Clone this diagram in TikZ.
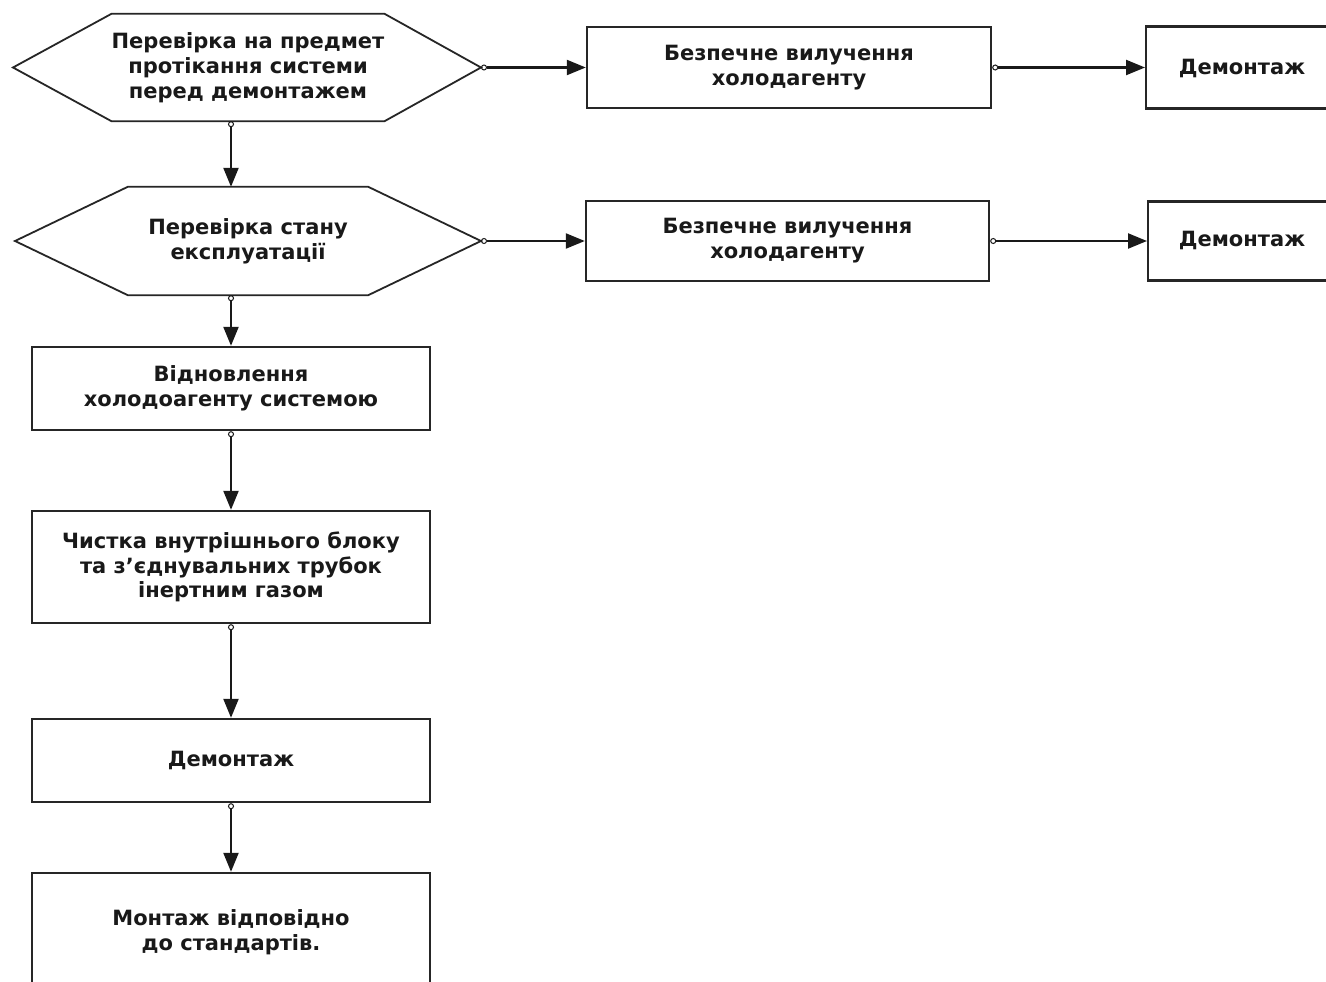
\documentclass[tikz,border=0pt]{standalone}
\usepackage{fontspec}
\setmainfont{DejaVu Sans}
\usetikzlibrary{arrows.meta,calc}
\begin{document}
\begin{tikzpicture}[x=1pt,y=-1pt,
  txt/.style={font=\bfseries\fontsize{21}{24.8}\selectfont, align=center, text=black!90},
  box/.style={draw=black!85, line width=2.4pt, inner sep=0pt, txt},
  hexnode/.style={inner sep=0pt, minimum width=240pt, txt},
  hexline/.style={draw=black!85, line width=1.8pt, line join=miter},
  conn/.style={draw=black!90, line width=2.2pt,
    {Circle[open,length=6pt,width=6pt,line width=1pt]}-{Triangle[length=19pt,width=15pt]}},
]
\useasboundingbox (0,0) rectangle (1326,982);
\fill[white] (0,0) rectangle (1326,982);
\clip (0,0) rectangle (1326,982);

% decision hexagons
\node[hexnode, minimum height=107pt] (h1) at (248,67.5)
  {Перевірка на предмет\\протікання системи\\перед демонтажем};
\coordinate (h1e) at (481,67.5);
\coordinate (h1w) at (13,67.5);
\draw[hexline] (h1.north west) -- (h1.north east) -- (h1e) -- (h1.south east)
  -- (h1.south west) -- (h1w) -- cycle;

\node[hexnode, minimum height=108pt] (h2) at (248,241)
  {Перевірка стану\\експлуатації};
\coordinate (h2e) at (481,241);
\coordinate (h2w) at (15,241);
\draw[hexline] (h2.north west) -- (h2.north east) -- (h2e) -- (h2.south east)
  -- (h2.south west) -- (h2w) -- cycle;

% right branch boxes
\node[box, minimum width=404pt, minimum height=81pt] (b1) at (789,67.5)
  {Безпечне вилучення\\холодагенту};
\node[box, minimum width=403pt, minimum height=80pt] (b2) at (787.5,241)
  {Безпечне вилучення\\холодагенту};

\node[box, anchor=west, minimum width=300pt, minimum height=82pt] (d1) at (1145,67.5) {};
\node[txt] (d1t) at (1242,68) {Демонтаж};
\node[box, anchor=west, minimum width=300pt, minimum height=79pt] (d2) at (1147,241) {};
\node[txt] (d2t) at (1242,240) {Демонтаж};

% main column
\node[box, minimum width=398pt, minimum height=83pt] (r1) at (231,388.5)
  {Відновлення\\холодоагенту системою};
\node[box, minimum width=398pt, minimum height=112pt] (r2) at (231,567)
  {Чистка внутрішнього блоку\\та з’єднувальних трубок\\інертним газом};
\node[box, minimum width=398pt, minimum height=83pt] (r3) at (231,760.5)
  {Демонтаж};
\node[box, minimum width=398pt, minimum height=118pt] (r4) at (231,932)
  {Монтаж відповідно\\до стандартів.};

% connectors
\draw[conn] (h1e) -- (b1.west);
\draw[conn] (b1.east) -- (d1.west);
\draw[conn] (h2e) -- (b2.west);
\draw[conn] (b2.east) -- (d2.west);
\draw[conn] (h1.south -| r1.north) -- (h2.north -| r1.north);
\draw[conn] (h2.south -| r1.north) -- (r1.north);
\draw[conn] (r1.south) -- (r2.north);
\draw[conn] (r2.south) -- (r3.north);
\draw[conn] (r3.south) -- (r4.north);
\end{tikzpicture}
\end{document}
